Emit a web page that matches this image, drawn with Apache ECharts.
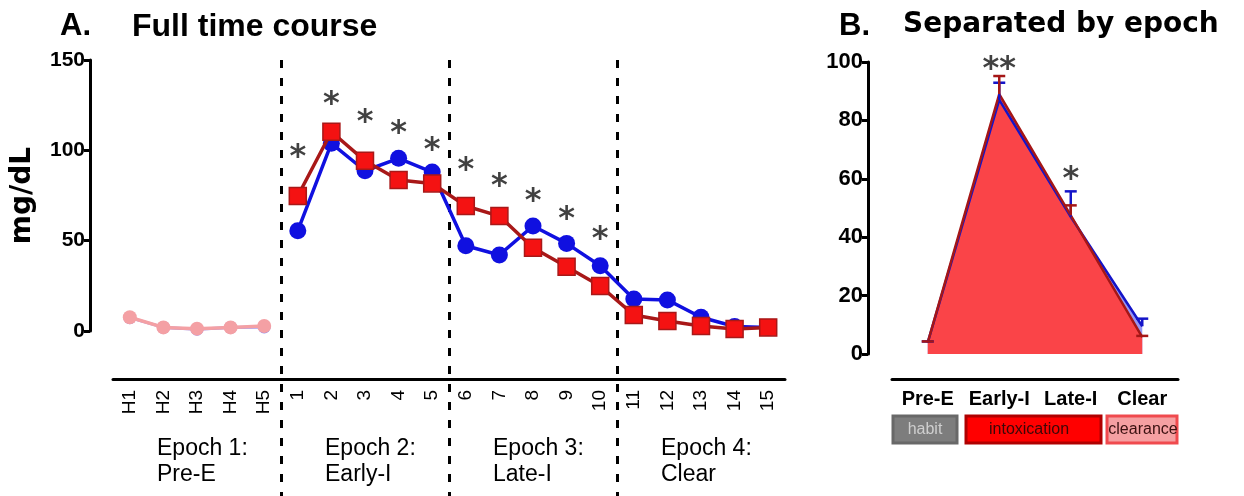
<!DOCTYPE html>
<html>
<head>
<meta charset="utf-8">
<script src="https://cdn.jsdelivr.net/npm/echarts@6/dist/echarts.min.js"></script>
<style>
html, body { margin: 0; padding: 0; background: #fff; }
#main { width: 1244px; height: 496px; }
</style>
</head>
<body>
<div id="main"></div>
<script>
// panel A: full time course
const timeLabels = ['H1', 'H2', 'H3', 'H4', 'H5', '1', '2', '3', '4', '5', '6', '7', '8', '9', '10', '11', '12', '13', '14', '15']
const habitBlue = [7.4, 2, 1, 2, 2.2, null, null, null, null, null, null, null, null, null, null, null, null, null, null, null]
const habitPink = [7.6, 2, 1.3, 2, 2.8, null, null, null, null, null, null, null, null, null, null, null, null, null, null, null]
const blueCourse = [null, null, null, null, null, 55.5, 103.9, 88.7, 95.6, 88, 47.2, 42.1, 58.1, 48.5, 36.1, 17.7, 17.2, 7.6, 2.5, 2]
const redCourse = [null, null, null, null, null, 74.7, 110.3, 94.2, 83.6, 81.7, 69.2, 63.6, 46.1, 35.6, 24.9, 8.9, 5.5, 2.8, 1.1, 2]
const starCourse = [null, null, null, null, null, 100.2, 129.7, 119.5, 113.4, 104.2, 93, 84.1, 75.8, 65.9, 55, null, null, null, null, null]
const epochLabels = [['Epoch 1:', 'Pre-E'], ['Epoch 2:', 'Early-I'], ['Epoch 3:', 'Late-I'], ['Epoch 4:', 'Clear']]

// panel B: separated by epoch
const epochCats = ['Pre-E', 'Early-I', 'Late-I', 'Clear']
const redEpoch = [4, 89, 47.5, 5.8]
const redEpochErr = [0.3, 6.2, 3.4, 0.4]
const blueEpoch = [4, 87, 47, 9.5]
const blueEpochErr = [0.3, 5.9, 8.7, 2.6]
const starEpoch = [null, 100.1, 62.6, null]
const starEpochText = ['', '**', '*', '']
const phaseNames = ['habit', 'intoxication', 'clearance']

const chart = echarts.init(document.getElementById('main'))

const black = '#000'
const axisFont = 'Liberation Sans, Arial, sans-serif'

const errorBars = function (values, errs, color, z) {
    return {
        type: 'custom',
        xAxisIndex: 2,
        yAxisIndex: 2,
        z: z,
        silent: true,
        data: values.map((v, i) => [i, v, v + errs[i]]),
        renderItem: function (params, api) {
            const base = api.coord([api.value(0), api.value(1)])
            const top = api.coord([api.value(0), api.value(2)])
            const style = { stroke: color, lineWidth: 2.5 }
            return {
                type: 'group',
                children: [
                    { type: 'line', shape: { x1: base[0], y1: base[1], x2: top[0], y2: top[1] }, style: style },
                    { type: 'line', shape: { x1: top[0] - 6, y1: top[1], x2: top[0] + 6, y2: top[1] }, style: style }
                ]
            }
        }
    }
}

const starLabel = function (xi, yi, data, texts) {
    return {
        type: 'scatter',
        xAxisIndex: xi,
        yAxisIndex: yi,
        symbolSize: 1,
        clip: false,
        itemStyle: { color: 'rgba(0,0,0,0)' },
        z: 10,
        silent: true,
        label: {
            show: true,
            position: 'inside',
            offset: [0, 8],
            formatter: p => texts ? texts[p.dataIndex] : '*',
            fontFamily: 'DejaVu Sans',
            fontWeight: 'bold',
            fontSize: 32,
            color: '#111'
        },
        data: data
    }
}

const valueAxisBase = {
    type: 'value',
    splitLine: { show: false },
    axisLine: { show: true, lineStyle: { color: black, width: 3 } },
    axisTick: { show: true, length: 6, lineStyle: { color: black, width: 3 } },
    axisLabel: { color: black, fontFamily: axisFont, fontWeight: 'bold', fontSize: 21, margin: 5 }
}

const option = {
    animation: false,
    backgroundColor: '#fff',
    title: [
        { text: 'A.', left: 60, top: 11, padding: 0, textStyle: { fontFamily: axisFont, fontWeight: 'bold', fontSize: 31, color: black } },
        { text: 'Full time course', left: 132, top: 11, padding: 0, textStyle: { fontFamily: axisFont, fontWeight: 'bold', fontSize: 32, color: black } },
        { text: 'B.', left: 839, top: 11, padding: 0, textStyle: { fontFamily: axisFont, fontWeight: 'bold', fontSize: 31, color: black } },
        { text: 'Separated by epoch', left: 903, top: 11, padding: 0, textStyle: { fontFamily: 'DejaVu Sans', fontWeight: 'bold', fontSize: 28, color: black } }
    ],
    grid: [
        { left: 113, right: 459, top: 60, bottom: 165 },
        { left: 113, right: 459, top: 60, bottom: 0 },
        { left: 892, right: 66, top: 62, bottom: 142 }
    ],
    xAxis: [
        {
            type: 'category',
            gridIndex: 0,
            data: timeLabels,
            boundaryGap: true,
            offset: 48,
            axisLine: { onZero: false, lineStyle: { color: black, width: 3 } },
            axisTick: { alignWithLabel: true, length: 8, lineStyle: { color: black, width: 3 } },
            axisLabel: { interval: 0, rotate: 90, margin: 11, color: black, fontFamily: axisFont, fontSize: 19 }
        },
        {
            type: 'category',
            gridIndex: 1,
            data: epochLabels.map(l => l.join('\n')),
            boundaryGap: true,
            axisLine: { show: false, onZero: false },
            axisTick: { show: false },
            splitLine: {
                show: true,
                showMinLine: false,
                showMaxLine: false,
                lineStyle: { color: black, width: 3, type: [8, 10] }
            },
            axisLabel: {
                inside: true,
                margin: 8,
                color: black,
                fontFamily: axisFont,
                fontSize: 23,
                lineHeight: 26,
                formatter: v => v.split('\n').map(s => '{t|' + s + '}').join('\n'),
                rich: { t: { width: 80, align: 'left', fontFamily: axisFont, fontSize: 23, lineHeight: 26, color: black } }
            }
        },
        {
            type: 'category',
            gridIndex: 2,
            data: epochCats,
            boundaryGap: true,
            offset: 25,
            axisLine: { onZero: false, lineStyle: { color: black, width: 3 } },
            axisTick: { alignWithLabel: true, length: 6, lineStyle: { color: black, width: 3 } },
            axisLabel: { interval: 0, margin: 10, color: black, fontFamily: axisFont, fontWeight: 'bold', fontSize: 20 }
        }
    ],
    yAxis: [
        Object.assign({}, valueAxisBase, {
            gridIndex: 0,
            min: 0,
            max: 150,
            interval: 50,
            offset: 23,
            name: 'mg/dL',
            nameLocation: 'middle',
            nameGap: 53,
            nameRotate: 90,
            nameTextStyle: { fontFamily: 'DejaVu Sans', fontWeight: 'bold', fontSize: 28, color: black }
        }),
        { type: 'value', gridIndex: 1, min: 0, max: 1, show: false },
        Object.assign({}, valueAxisBase, {
            gridIndex: 2,
            min: 0,
            max: 100,
            interval: 20,
            offset: 24,
            axisLabel: { color: black, fontFamily: axisFont, fontWeight: 'bold', fontSize: 22, margin: 5 }
        })
    ],
    series: [
        {
            name: 'habit (blue)',
            type: 'line',
            xAxisIndex: 0,
            yAxisIndex: 0,
            data: habitBlue,
            symbol: 'circle',
            symbolSize: 13,
            z: 2,
            itemStyle: { color: '#8c8cf6' },
            lineStyle: { color: '#8c8cf6', width: 3 }
        },
        {
            name: 'habit',
            type: 'line',
            xAxisIndex: 0,
            yAxisIndex: 0,
            data: habitPink,
            symbol: 'circle',
            symbolSize: 14,
            z: 3,
            itemStyle: { color: '#f4a0a4' },
            lineStyle: { color: '#f4a0a4', width: 3.5 }
        },
        {
            name: 'blue group',
            type: 'line',
            xAxisIndex: 0,
            yAxisIndex: 0,
            data: blueCourse,
            symbol: 'circle',
            symbolSize: 17,
            z: 4,
            itemStyle: { color: '#1010e0' },
            lineStyle: { color: '#1010e0', width: 3.5 }
        },
        {
            name: 'red group',
            type: 'line',
            xAxisIndex: 0,
            yAxisIndex: 0,
            data: redCourse,
            symbol: 'rect',
            symbolSize: 17,
            z: 5,
            itemStyle: { color: '#f41212', borderColor: '#a81818', borderWidth: 1.5 },
            lineStyle: { color: '#a81818', width: 3.5 }
        },
        starLabel(0, 0, starCourse, null),
        // panel B: areas first, then outlines
        {
            type: 'line',
            xAxisIndex: 2,
            yAxisIndex: 2,
            data: blueEpoch,
            symbol: 'none',
            z: 2,
            lineStyle: { width: 0 },
            areaStyle: { color: '#9696f2', opacity: 1 }
        },
        {
            type: 'line',
            xAxisIndex: 2,
            yAxisIndex: 2,
            data: redEpoch,
            symbol: 'none',
            z: 3,
            lineStyle: { width: 0 },
            areaStyle: { color: '#fa4448', opacity: 1 }
        },
        {
            type: 'line',
            xAxisIndex: 2,
            yAxisIndex: 2,
            data: blueEpoch,
            symbol: 'none',
            z: 4,
            lineStyle: { color: '#1414c8', width: 2.5 }
        },
        {
            type: 'line',
            xAxisIndex: 2,
            yAxisIndex: 2,
            data: redEpoch,
            symbol: 'none',
            z: 5,
            lineStyle: { color: '#a51616', width: 2.5 }
        },
        errorBars(blueEpoch, blueEpochErr, '#1414c8', 6),
        errorBars(redEpoch, redEpochErr, '#a51616', 7),
        starLabel(2, 2, starEpoch, starEpochText)
    ],
    graphic: [
        {
            type: 'group',
            silent: true,
            children: [
                { type: 'rect', shape: { x: 893, y: 416, width: 64, height: 27 }, style: { fill: '#7d7d7d', stroke: '#686868', lineWidth: 3 } },
                { type: 'text', x: 925, y: 430, style: { text: phaseNames[0], fill: '#cfcfcf', font: '16px Liberation Sans', align: 'center', verticalAlign: 'middle' } },
                { type: 'rect', shape: { x: 966, y: 416, width: 135, height: 27 }, style: { fill: '#ff0000', stroke: '#b00000', lineWidth: 3 } },
                { type: 'text', x: 1029, y: 430, style: { text: phaseNames[1], fill: '#3a0808', font: '16px Liberation Sans', align: 'center', verticalAlign: 'middle' } },
                { type: 'rect', shape: { x: 1107, y: 416, width: 70, height: 27 }, style: { fill: '#f5a0a2', stroke: '#f04a4e', lineWidth: 3 } },
                { type: 'text', x: 1143, y: 430, style: { text: phaseNames[2], fill: '#3a1010', font: '16px Liberation Sans', align: 'center', verticalAlign: 'middle' } }
            ]
        }
    ]
}

option && chart.setOption(option)
</script>
</body>
</html>
